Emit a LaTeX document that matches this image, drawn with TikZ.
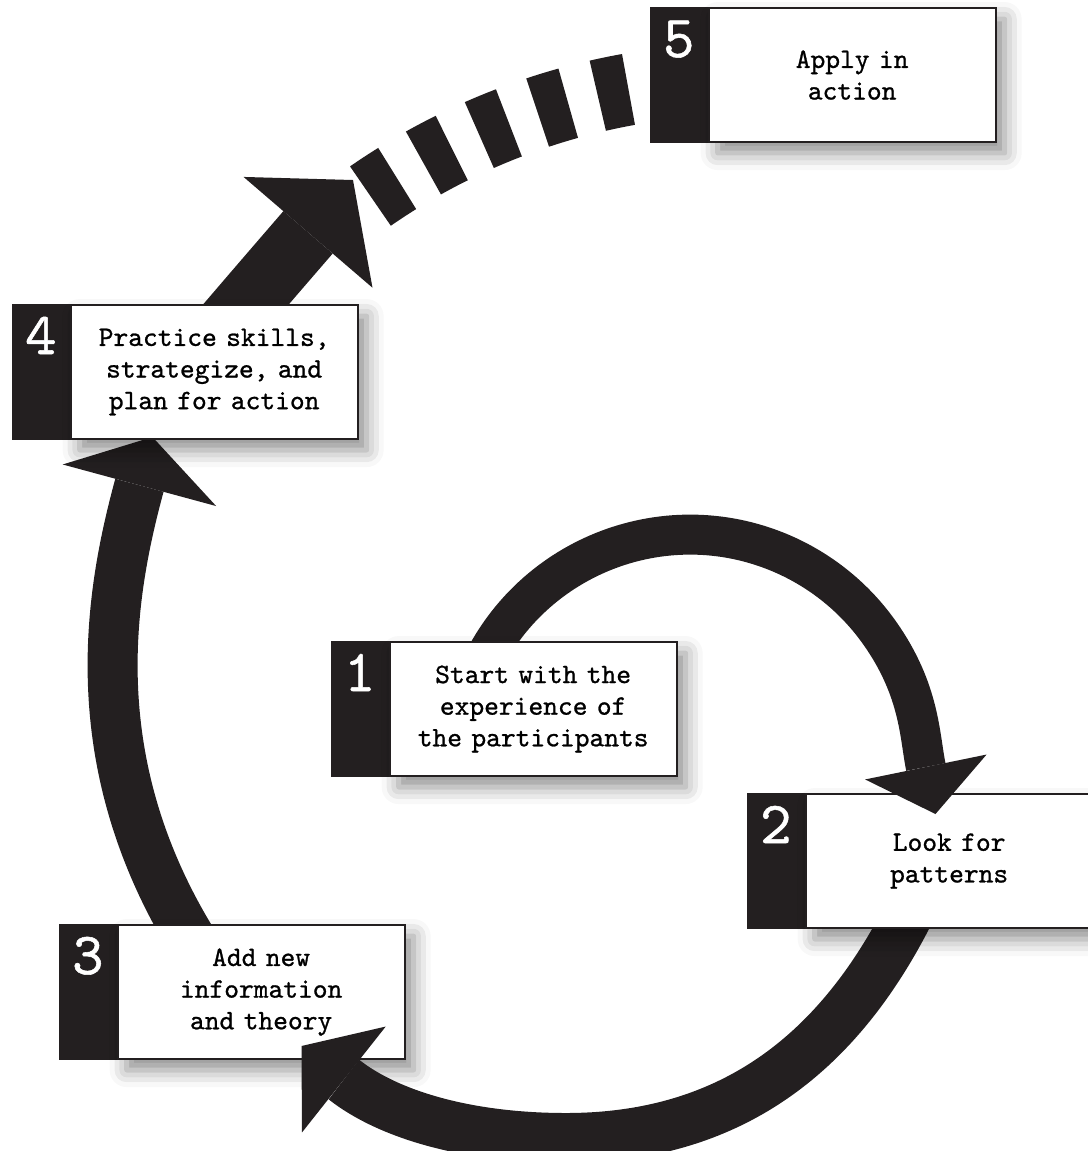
\documentclass[tikz,border=0pt]{standalone}
\usepackage{fontspec}
\usepackage{tikz}
\usetikzlibrary{positioning,arrows.meta,shadows.blur,calc}
\newfontfamily\boxfont{lmmono10-regular.otf}[FakeBold=0.9]
\definecolor{ink}{RGB}{35,31,32}

\tikzset{
  numbox/.style={anchor=north west,fill=ink,draw=ink,line width=0.6pt,text=white,
    minimum width=0.555cm,inner xsep=0pt,inner ysep=0.12cm,
    text height=0.37cm,text depth=0.73cm,font=\boxfont\fontsize{17}{17}\selectfont},
  stepbox/.style={draw=ink,fill=white,line width=0.6pt,text width=2.7cm,inner xsep=0.085cm,
    minimum height=1.34cm,align=center,font=\boxfont\fontsize{8}{9}\selectfont,
    blur shadow={shadow xshift=0.09cm,shadow yshift=-0.11cm,shadow blur radius=0.17cm,shadow opacity=45}},
  bigarrow/.style n args={3}{draw=ink,line width=#1,-{Triangle[width=#2,length=#3,line width=0pt]}},
  dashline/.style={draw=ink,line width=0.72cm,dash pattern=on 0.32cm off 0.305cm}
}

\begin{document}
\begin{tikzpicture}
\useasboundingbox (0,0) rectangle (10.87,-11.51);

% corners of the number strips
\coordinate (p1) at (3.31,-6.41);
\coordinate (p2) at (7.47,-7.93);
\coordinate (p3) at (0.59,-9.24);
\coordinate (p4) at (0.12,-3.04);
\coordinate (p5) at (6.50,-0.07);

\coordinate (s12) at ($(p1)+(1.455,-0.35)$);
\coordinate (e12) at ($(p2)+(1.885,-0.21)$);
\coordinate (s23) at ($(p2)+(1.685,-1.07)$);
\coordinate (m23) at (5.66,-11.38);
\coordinate (e23) at ($(p3)+(2.425,-1.22)$);
\coordinate (s34) at ($(p3)+(1.355,-0.21)$);
\coordinate (e34) at ($(p4)+(1.405,-1.33)$);
\coordinate (s45) at ($(p4)+(2.035,-0.36)$);
\coordinate (e45) at (3.53,-1.80);
\coordinate (dc) at (7.45,-7.37);

\draw[bigarrow={0.5cm}{1.59cm}{0.5cm}] (s34) .. controls +(-1.15,1.85) and +(-0.42,-1.55) .. (e34);
\draw[bigarrow={0.65cm}{1.7cm}{0.69cm}] (s45) .. controls +(0.40,0.47) and +(-0.55,-0.64) .. (e45);

\node[numbox] (n3) at (p3) {3};
\node[stepbox,right=0pt of n3] (b3) {Add new\\information\\and theory};

\draw[bigarrow={0.5cm}{1.35cm}{0.54cm}] (s23) .. controls +(-0.69,-1.44) and +(1.74,0) .. (m23)
  .. controls +(-1.0,0) and +(0.86,-0.68) .. (e23);

\node[numbox] (n2) at (p2) {2};
\node[stepbox,right=0pt of n2] (b2) {Look for\\patterns};

\draw[bigarrow={0.4cm}{1.24cm}{0.48cm}] (s12) arc[start angle=157,end angle=35,radius=2.32]
  .. controls +(0.40,-0.57) and +(-0.16,0.78) .. (e12);

\node[numbox] (n1) at (p1) {1};
\node[stepbox,right=0pt of n1] (b1) {Start with the\\experience of\\the participants};
\node[numbox] (n4) at (p4) {4};
\node[stepbox,right=0pt of n4] (b4) {Practice skills,\\strategize, and\\plan for action};
\node[numbox] (n5) at (p5) {5};
\node[stepbox,right=0pt of n5] (b5) {Apply in\\action};

\draw[dashline] ($(dc)+(124.7:6.58)$) arc[start angle=124.7,end angle=100.2,radius=6.58];
\end{tikzpicture}
\end{document}
